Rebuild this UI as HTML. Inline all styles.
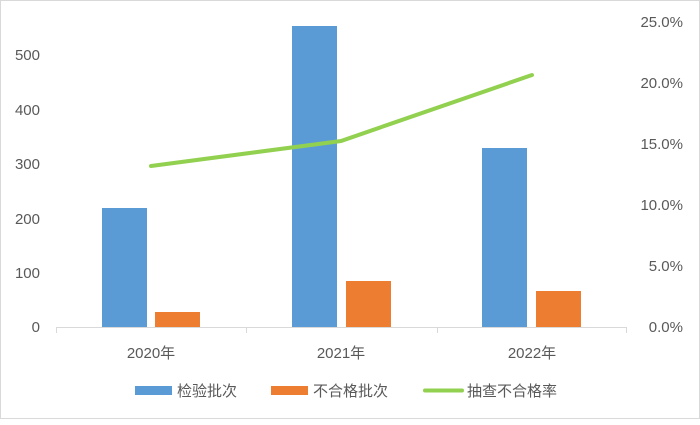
<!DOCTYPE html>
<html><head><meta charset="utf-8"><style>
body{margin:0;background:#fff}
svg text{font-family:"Liberation Sans","Noto Sans CJK SC",sans-serif;fill:#595959;font-size:15px}
</style></head><body>
<svg width="700" height="420" xmlns="http://www.w3.org/2000/svg">
<rect x="0.5" y="0.5" width="699" height="418" fill="#fff" stroke="#d9d9d9"/>
<g text-anchor="end">
<text x="40" y="332">0</text><text x="40" y="278">100</text><text x="40" y="224">200</text>
<text x="40" y="169">300</text><text x="40" y="115">400</text><text x="40" y="60">500</text>
</g>
<g text-anchor="end">
<text x="683" y="332">0.0%</text><text x="683" y="271">5.0%</text><text x="683" y="210">10.0%</text>
<text x="683" y="149">15.0%</text><text x="683" y="88">20.0%</text><text x="683" y="27">25.0%</text>
</g>
<rect x="102" y="208" width="45" height="119" fill="#5b9bd5"/>
<rect x="155" y="312" width="45" height="15" fill="#ed7d31"/>
<rect x="292" y="26" width="45" height="301" fill="#5b9bd5"/>
<rect x="346" y="281" width="45" height="46" fill="#ed7d31"/>
<rect x="482" y="148" width="45" height="179" fill="#5b9bd5"/>
<rect x="536" y="291" width="45" height="36" fill="#ed7d31"/>
<path d="M56 327.5H627M56.5 327v6M246.5 327v6M437.5 327v6M626.5 327v6" stroke="#d9d9d9" fill="none"/>
<polyline points="151,166 341,141 532,75" fill="none" stroke="#92d050" stroke-width="4" stroke-linecap="round"/>
<g text-anchor="middle">
<text x="151" y="358">2020年</text><text x="341" y="358">2021年</text><text x="532" y="358">2022年</text>
</g>
<rect x="135" y="386" width="37" height="9" fill="#5b9bd5"/><text x="177" y="396">检验批次</text>
<rect x="271" y="386" width="37" height="9" fill="#ed7d31"/><text x="313" y="396">不合格批次</text>
<line x1="425" y1="390.5" x2="462" y2="390.5" stroke="#92d050" stroke-width="4" stroke-linecap="round"/><text x="467" y="396">抽查不合格率</text>
</svg>
</body></html>
